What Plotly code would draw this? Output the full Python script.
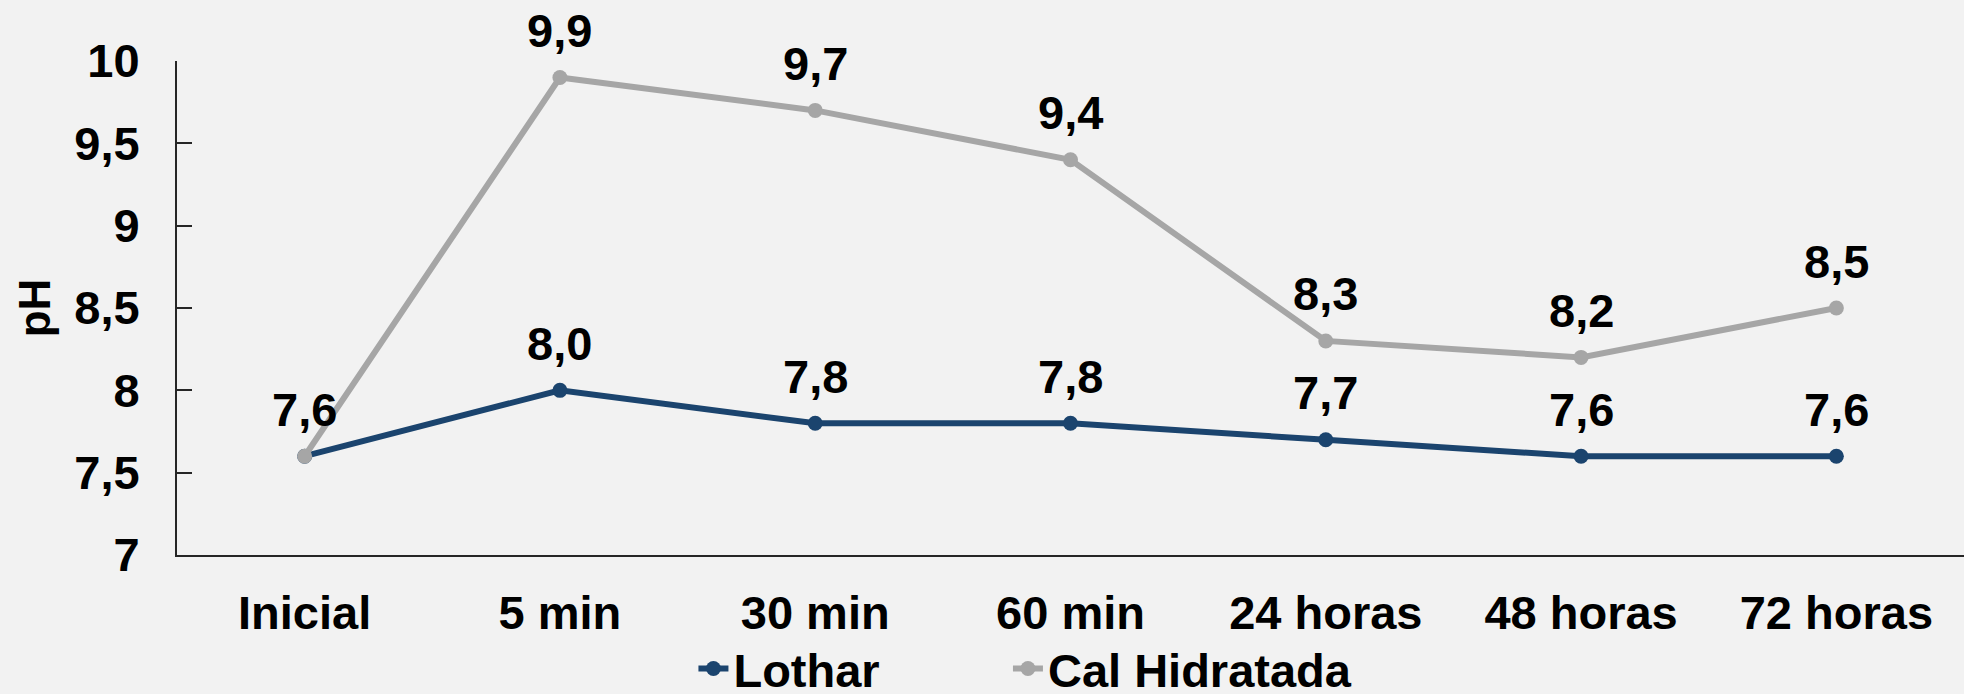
import plotly.graph_objects as go

categories = ["Inicial", "5 min", "30 min", "60 min", "24 horas", "48 horas", "72 horas"]
lothar = [7.6, 8.0, 7.8, 7.8, 7.7, 7.6, 7.6]
cal = [7.6, 9.9, 9.7, 9.4, 8.3, 8.2, 8.5]
lothar_labels = ["7,6", "8,0", "7,8", "7,8", "7,7", "7,6", "7,6"]
cal_labels = ["", "9,9", "9,7", "9,4", "8,3", "8,2", "8,5"]
y_ticks = [7, 7.5, 8, 8.5, 9, 9.5, 10]
y_tick_text = ["7", "7,5", "8", "8,5", "9", "9,5", "10"]

BLUE = "#1B446E"
GRAY = "#A6A6A6"
FONT = "Liberation Sans"
FS = 47

fig = go.Figure()
fig.add_trace(go.Scatter(
    x=categories, y=lothar, name="Lothar", mode="lines+markers",
    line=dict(color=BLUE, width=6), marker=dict(color=BLUE, size=15),
    cliponaxis=False, legend="legend",
))
fig.add_trace(go.Scatter(
    x=categories, y=cal, name="Cal Hidratada", mode="lines+markers",
    line=dict(color=GRAY, width=6), marker=dict(color=GRAY, size=15),
    cliponaxis=False, legend="legend2",
))

for ys, labels in ((lothar, lothar_labels), (cal, cal_labels)):
    for c, v, t in zip(categories, ys, labels):
        if t:
            fig.add_annotation(x=c, y=v, text=t, showarrow=False, yanchor="middle",
                               yshift=47, font=dict(family=FONT, size=FS, color="black", weight="bold"))

leg_font = dict(family=FONT, size=FS, color="black", weight="bold")
fig.update_layout(
    width=1964, height=694,
    margin=dict(l=177, r=0, t=61, b=139),
    paper_bgcolor="#F2F2F2", plot_bgcolor="#F2F2F2",
    font=dict(family=FONT, size=FS, color="black", weight="bold"),
    showlegend=True,
    legend=dict(orientation="h", x=0.289, xanchor="left", yref="container", y=0.036, yanchor="middle",
                font=leg_font, bgcolor="rgba(0,0,0,0)", borderwidth=0),
    legend2=dict(orientation="h", x=0.465, xanchor="left", yref="container", y=0.036, yanchor="middle",
                 font=leg_font, bgcolor="rgba(0,0,0,0)", borderwidth=0),
)
fig.update_xaxes(
    type="category", range=[-0.5, 6.5], showgrid=False, zeroline=False,
    showline=True, linecolor="#262626", linewidth=2, ticks="",
    ticklabelstandoff=16, automargin=False,
    tickfont=dict(family=FONT, size=FS, color="black", weight="bold"),
)
fig.update_yaxes(
    range=[7, 10], tickvals=y_ticks, ticktext=y_tick_text, showgrid=False, zeroline=False,
    showline=True, linecolor="#262626", linewidth=2, ticks="inside", ticklen=15,
    tickwidth=2, tickcolor="#262626", ticklabelstandoff=26, automargin=False,
    tickfont=dict(family=FONT, size=FS, color="black", weight="bold"),
    title=dict(text="pH", font=dict(family=FONT, size=44, color="black", weight="bold"), standoff=10),
)

fig.write_html("out.html")
